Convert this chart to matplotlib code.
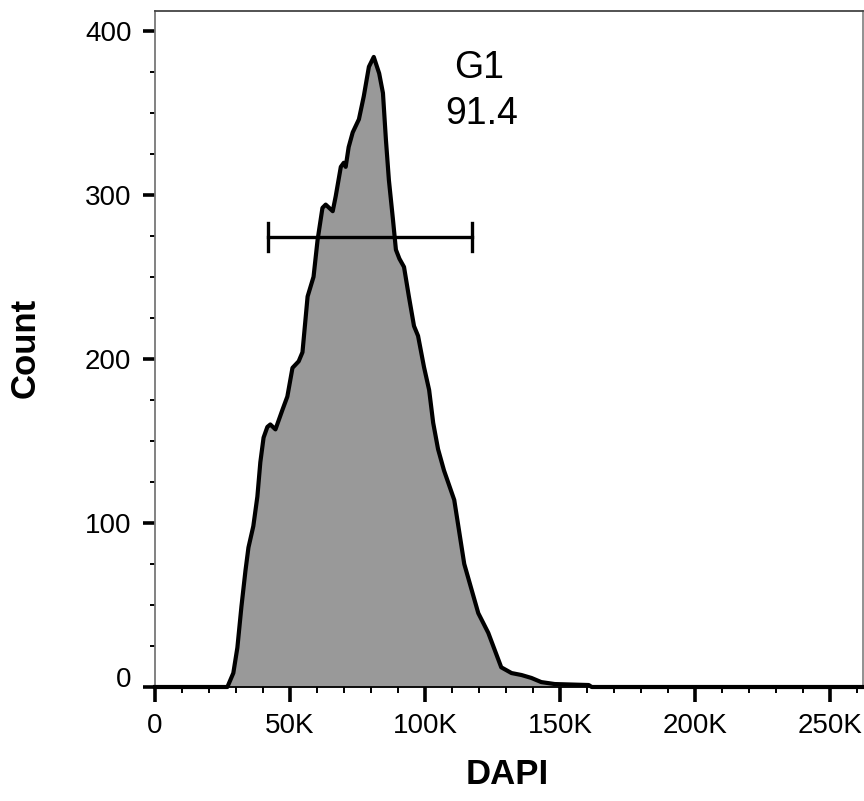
import matplotlib
matplotlib.use("Agg")
import matplotlib.pyplot as plt
from matplotlib.ticker import MultipleLocator
import numpy as np

plt.rcParams['font.family'] = ['Liberation Sans', 'DejaVu Sans']

# Histogram trace (DAPI value, count)
dapi = [0, 26800, 29000, 30500, 32000, 33500, 34600, 36400, 37900, 39000, 40200,
        41600, 42700, 44600, 47200, 49000, 50900, 53200, 54600, 56500, 58700,
        60200, 62000, 63200, 65800, 66900, 68800, 69900, 70600, 71700, 73200,
        75500, 77300, 79200, 81000, 83000, 84400, 85500, 86600, 88100, 89200,
        90500, 92200, 94000, 95900, 97400, 99600, 101500, 103000, 104800, 107000,
        110800, 114500, 119700, 123400, 128200, 132000, 135700, 139400, 143000,
        148000, 160600, 161700, 262144]
count = [0, 0, 8.5, 24, 49, 71, 85, 98, 116, 137, 152,
         158.5, 160, 157, 169, 177, 194.5, 198.5, 204, 238, 250,
         272.5, 292, 294, 290, 299, 317, 319.5, 317, 329, 338,
         346, 360, 378, 384, 374, 362, 333.5, 309, 285, 266.5,
         261, 256, 238, 220, 214, 195, 181, 161, 145, 132,
         114, 75, 45, 33, 12, 8.5, 7.3, 5.5, 3,
         1.8, 1.2, 0, 0]

gate_name = "G1"
gate_pct = "91.4"
gate_start = 42000
gate_end = 117500
gate_y = 274.5

x_major = [0, 50000, 100000, 150000, 200000, 250000]
x_labels = ["0", "50K", "100K", "150K", "200K", "250K"]
y_major = [0, 100, 200, 300, 400]
y_labels = ["0", "100", "200", "300", "400"]

fig = plt.figure(figsize=(8.64, 8.01), dpi=100)
ax = fig.add_axes([155/864, 1-687/801, (863-155)/864, (687-11)/801])

ax.fill_between(dapi, count, 0, color="#999999", linewidth=0)
ax.plot(dapi, count, color="black", linewidth=3.0, clip_on=False,
        solid_joinstyle="round", zorder=5)

# gate
ax.plot([gate_start, gate_end], [gate_y, gate_y], color="black", lw=2.4, zorder=6)
ax.plot([gate_start, gate_start], [gate_y - 8.5, gate_y + 8.5], color="black", lw=2.4, zorder=6)
ax.plot([gate_end, gate_end], [gate_y - 8.5, gate_y + 8.5], color="black", lw=2.4, zorder=6)
ax.text(120000, 377, gate_name, ha="center", va="center", fontsize=27)
ax.text(120800, 349, gate_pct, ha="center", va="center", fontsize=27)

ax.set_xlim(0, 262144)
ax.set_ylim(0, 412)

ax.set_xticks(x_major)
ax.set_xticklabels(x_labels)
ax.set_yticks(y_major)
ax.set_yticklabels(y_labels)
ax.xaxis.set_minor_locator(MultipleLocator(10000))
ax.yaxis.set_minor_locator(MultipleLocator(25))

ax.tick_params(axis="both", which="major", direction="out", color="black",
               labelsize=20, width=2.6)
ax.tick_params(axis="x", which="major", length=11, pad=8)
ax.tick_params(axis="y", which="major", length=9, pad=8)
ax.tick_params(axis="x", which="minor", direction="out", length=4.5, width=1.4, color="black")
ax.tick_params(axis="y", which="minor", direction="out", length=3.6, width=1.4, color="black")

ax.get_yticklabels()[0].set_va("baseline")

ax.spines["left"].set_color("#777777")
ax.spines["left"].set_linewidth(1.3)
ax.spines["right"].set_color("#888888")
ax.spines["right"].set_linewidth(1.3)
ax.spines["top"].set_color("#444444")
ax.spines["top"].set_linewidth(1.3)
ax.spines["bottom"].set_color("black")
ax.spines["bottom"].set_linewidth(1.3)

ax.set_xlabel("DAPI", fontsize=25, fontweight="bold", va="center")
ax.xaxis.set_label_coords(0.497, -0.130)
ax.set_ylabel("Count", fontsize=25, fontweight="bold", va="center")
ax.yaxis.set_label_coords(-0.1836, 0.501)

fig.savefig("out.png", dpi=100)
